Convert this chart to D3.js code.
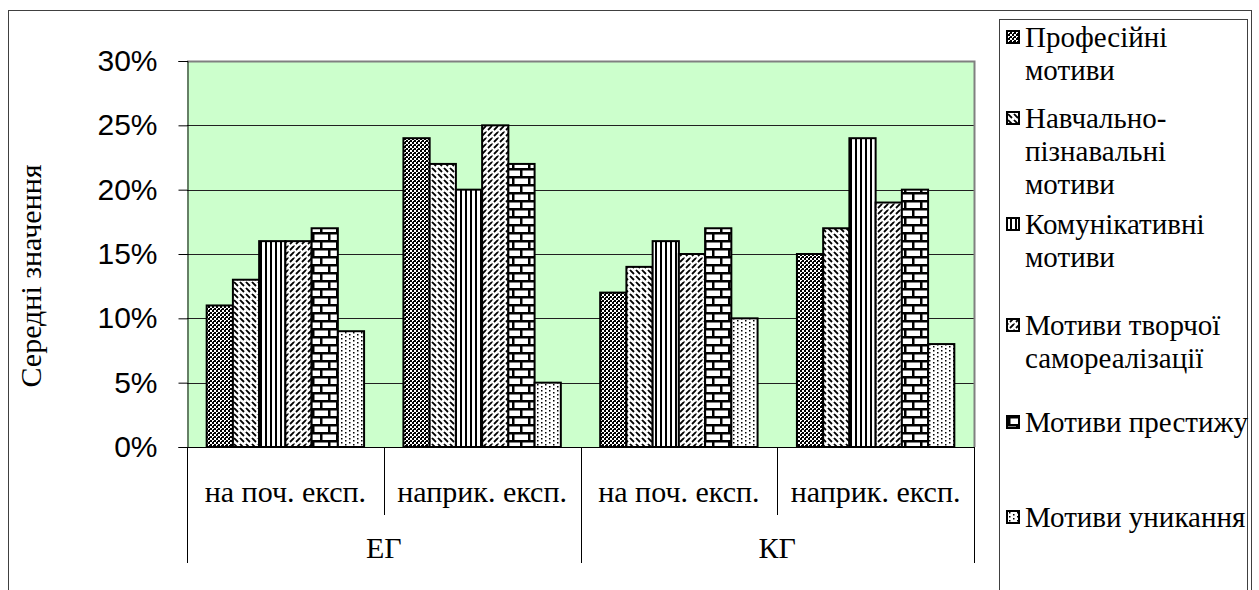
<!DOCTYPE html>
<html><head><meta charset="utf-8">
<script src="https://cdn.jsdelivr.net/npm/d3@7"></script>
</head>
<body>
<svg id="chart" width="1259" height="590"><style>
text.sf { font-family: "Liberation Serif", "Noto Serif", "DejaVu Serif", serif; }
text.ss { font-family: "Liberation Sans", Arial, sans-serif; }
</style></svg>
<script>
// ---- data ----
const groups = ["ЕГ", "КГ"];
const categories = ["на поч. експ.", "наприк. експ.", "на поч. експ.", "наприк. експ."];
const seriesNames = [
  ["Професійні", "мотиви"],
  ["Навчально-", "пізнавальні", "мотиви"],
  ["Комунікативні", "мотиви"],
  ["Мотиви творчої", "самореалізації"],
  ["Мотиви престижу"],
  ["Мотиви уникання"]
];
const professional = [11, 24, 12, 15];
const educational = [13, 22, 14, 17];
const communicative = [16, 20, 16, 24];
const creative = [16, 25, 15, 19];
const prestige = [17, 22, 17, 20];
const avoidance = [9, 5, 10, 8];
const seriesValues = [professional, educational, communicative, creative, prestige, avoidance];
const yTicks = [0, 5, 10, 15, 20, 25, 30];
const yTitle = "Середні значення";

// ---- layout ----
document.body.style.margin = "0";
const svg = d3.select("#chart").style("display", "block");
const L = 187, R = 974, T = 61, B = 447;
function serifText(sel, size) {
  return sel.classed("sf", true).style("font", `${size}px "Liberation Serif"`).attr("fill", "#000");
}

// patterns
const defs = svg.append("defs");
function pat(id, w, h, build) {
  const p = defs.append("pattern").attr("id", id).attr("patternUnits", "userSpaceOnUse")
    .attr("width", w).attr("height", h);
  build(p);
}
pat("p0", 4, 4, p => {
  p.append("rect").attr("width", 4).attr("height", 4).attr("fill", "#000");
  p.append("rect").attr("x", 0).attr("y", 0).attr("width", 2).attr("height", 2).attr("fill", "#fff");
  p.append("rect").attr("x", 2).attr("y", 2).attr("width", 2).attr("height", 2).attr("fill", "#fff");
  p.append("rect").attr("x", 1).attr("y", 1).attr("width", 1).attr("height", 1).attr("fill", "#000");
});
pat("p1", 6, 6, p => {
  p.append("rect").attr("width", 6).attr("height", 6).attr("fill", "#fff");
  p.append("path").attr("d", "M0,0 L4,4 M-3,3 L0,6 M3,-3 L6,0").attr("stroke", "#000").attr("stroke-width", 1.8);
});
pat("p2", 5, 4, p => {
  p.append("rect").attr("width", 5).attr("height", 4).attr("fill", "#fff");
  p.append("rect").attr("x", 0).attr("width", 2).attr("height", 4).attr("fill", "#000");
});
pat("p3", 6, 6, p => {
  p.append("rect").attr("width", 6).attr("height", 6).attr("fill", "#fff");
  p.append("path").attr("d", "M6,0 L2,4 M3,-3 L0,0 M9,3 L6,6 M0,6 L0.5,5.5").attr("stroke", "#000").attr("stroke-width", 1.8);
});
pat("p4", 16, 16, p => {
  p.append("rect").attr("width", 16).attr("height", 16).attr("fill", "#fff");
  p.append("rect").attr("x", 0).attr("y", 0).attr("width", 16).attr("height", 2.5).attr("fill", "#000");
  p.append("rect").attr("x", 0).attr("y", 8).attr("width", 16).attr("height", 2.5).attr("fill", "#000");
  p.append("rect").attr("x", 0).attr("y", 0).attr("width", 2.5).attr("height", 8).attr("fill", "#000");
  p.append("rect").attr("x", 8).attr("y", 8).attr("width", 2.5).attr("height", 8).attr("fill", "#000");
});
pat("p5", 8, 4, p => {
  p.append("rect").attr("width", 8).attr("height", 4).attr("fill", "#fff");
  p.append("rect").attr("x", 1).attr("y", 0).attr("width", 1.5).attr("height", 1.5).attr("fill", "#000");
  p.append("rect").attr("x", 5).attr("y", 2).attr("width", 1.5).attr("height", 1.5).attr("fill", "#000");
});

// outer border
svg.append("rect").attr("x", 8.5).attr("y", 10.5).attr("width", 1243).attr("height", 600)
  .attr("fill", "none").attr("stroke", "#404040").attr("stroke-width", 1);

// scales
const y = d3.scaleLinear().domain([0, 30]).range([B, T]);
const x0 = d3.scaleBand().domain(d3.range(categories.length)).range([L, R]).padding(0);
const x1 = d3.scaleBand().domain(d3.range(seriesValues.length))
  .range([x0.bandwidth() * 0.1, x0.bandwidth() * 0.9]).padding(0);

// plot area
svg.append("rect").attr("x", L).attr("y", T).attr("width", R - L).attr("height", B - T)
  .attr("fill", "#CCFFCC");
svg.append("g").selectAll("line").data(yTicks.filter(t => t > 0 && t < 30)).join("line")
  .attr("x1", L).attr("x2", R).attr("y1", d => Math.round(y(d)) + 0.5).attr("y2", d => Math.round(y(d)) + 0.5)
  .attr("stroke", "#202020").attr("stroke-width", 1);
svg.append("path").attr("d", `M${L},${T + 0.5} H${R + 0.5} V${B}`).attr("fill", "none")
  .attr("stroke", "#808080").attr("stroke-width", 2);

// bars
const gBars = svg.append("g");
seriesValues.forEach((vals, si) => {
  gBars.selectAll(null).data(vals).join("rect")
    .attr("x", (d, ci) => x0(ci) + x1(si))
    .attr("y", d => y(d))
    .attr("width", x1.bandwidth())
    .attr("height", d => B - y(d))
    .attr("fill", `url(#p${si})`)
    .attr("stroke", "#000").attr("stroke-width", 2);
});

// y axis
const yAxis = d3.axisLeft(y).tickValues(yTicks).tickFormat(d => d + "%").tickSize(9).tickPadding(21);
const gy = svg.append("g").attr("transform", `translate(${L + 0.5},0)`).call(yAxis);
gy.attr("font-family", null).attr("font-size", null);
gy.select(".domain").attr("stroke", "#000");
gy.selectAll(".tick line").attr("stroke", "#000");
gy.selectAll(".tick text").classed("ss", true).style("font", '30px "Liberation Sans"').attr("fill", "#000");

svg.append("line").attr("x1", L).attr("x2", R).attr("y1", B + 0.5).attr("y2", B + 0.5).attr("stroke", "#000");

// category dividers & labels
d3.range(categories.length + 1).forEach(i => {
  const xx = i < categories.length ? x0(i) : R;
  const long = i % 2 === 0;
  svg.append("line").attr("x1", Math.round(xx) + 0.5).attr("x2", Math.round(xx) + 0.5)
    .attr("y1", B).attr("y2", long ? 563 : 515).attr("stroke", "#000");
});
serifText(svg.selectAll("text.cat").data(categories).join("text").attr("class", "cat")
  .attr("x", (d, i) => x0(i) + x0.bandwidth() / 2).attr("y", 502)
  .attr("text-anchor", "middle").text(d => d), 30);
serifText(svg.selectAll("text.grp").data(groups).join("text").attr("class", "grp")
  .attr("x", (d, i) => x0(i * 2) + x0.bandwidth()).attr("y", 558)
  .attr("text-anchor", "middle").text(d => d), 30);

// y title
serifText(svg.append("text").attr("transform", `translate(41,276) rotate(-90)`)
  .attr("text-anchor", "middle").text(yTitle), 30);

// legend
svg.append("rect").attr("x", 999.5).attr("y", 19.5).attr("width", 248).attr("height", 600)
  .attr("fill", "#fff").attr("stroke", "#404040");
const legendFirstY = [37, 118, 224, 325, 422, 517];
const lineH = 33;
seriesNames.forEach((lines, si) => {
  const cy = legendFirstY[si];
  svg.append("rect").attr("x", 1007).attr("y", cy - 6).attr("width", 12).attr("height", 12)
    .attr("fill", `url(#p${si})`).attr("stroke", "#000").attr("stroke-width", 2);
  lines.forEach((ln, li) => {
    serifText(svg.append("text").attr("x", 1025).attr("y", cy + li * lineH + 10).text(ln), 29);
  });
});
</script>
</body></html>
